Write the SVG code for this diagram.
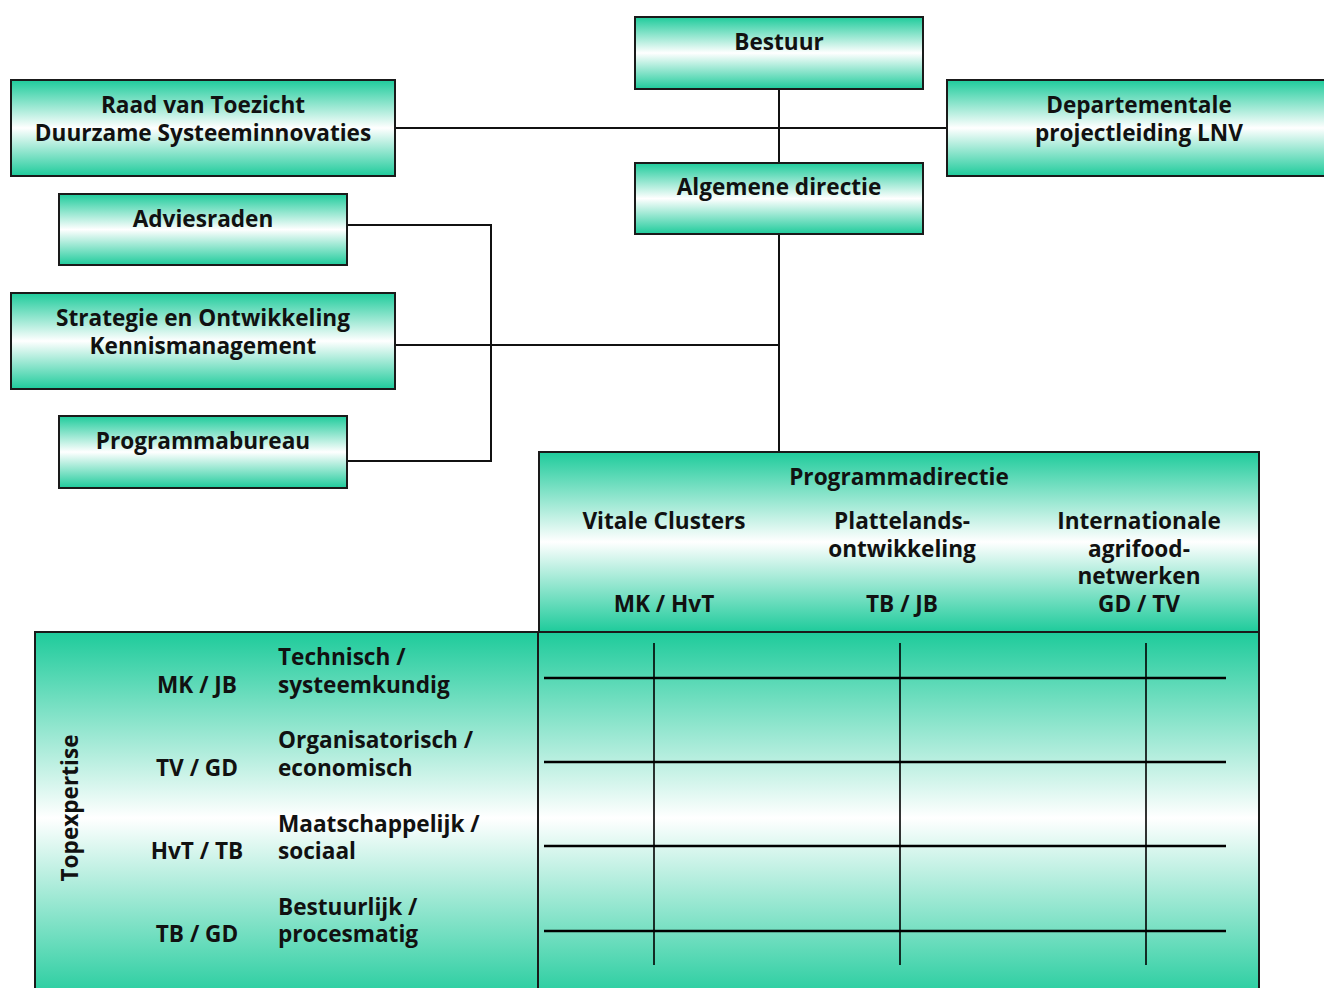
<svg xmlns="http://www.w3.org/2000/svg" width="1324" height="988" viewBox="0 0 1324 988">
  <defs>
    <linearGradient id="fade" x1="0" y1="0" x2="0" y2="1">
      <stop offset="0" stop-color="#1ecb9b"/>
      <stop offset="0.5" stop-color="#ffffff"/>
      <stop offset="1" stop-color="#1ecb9b"/>
    </linearGradient>
  </defs>
  <style>
    .box { fill: url(#fade); stroke: #1a1a1a; stroke-width: 2; }
    .lbl { font-family: "Open Sans", "DejaVu Sans", sans-serif; font-weight: bold; font-size: 22.6px; fill: #111; }
    .mid { text-anchor: middle; }
    .wire { fill: none; stroke: #111; stroke-width: 2; }
    .grid-h { stroke: #000; stroke-width: 2.4; }
    .grid-v { stroke: #000; stroke-width: 1.6; }
  </style>
  <rect width="1324" height="988" fill="#ffffff"/>

  <!-- connectors -->
  <g id="connectors">
    <line class="wire" x1="395" y1="128" x2="947" y2="128"/>
    <line class="wire" x1="779" y1="89" x2="779" y2="163"/>
    <line class="wire" x1="779" y1="234" x2="779" y2="452"/>
    <line class="wire" x1="395" y1="345" x2="779" y2="345"/>
    <polyline class="wire" points="347,225 491,225 491,461 347,461"/>
  </g>

  <g id="bestuur">
    <rect class="box" x="635" y="17" width="288" height="72"/>
    <text class="lbl mid" x="779" y="50">Bestuur</text>
  </g>

  <g id="raad-van-toezicht">
    <rect class="box" x="11" y="80" width="384" height="96"/>
    <text class="lbl mid" x="203" y="113">Raad van Toezicht</text>
    <text class="lbl mid" x="203" y="141">Duurzame Systeeminnovaties</text>
  </g>

  <g id="departementale-projectleiding">
    <rect class="box" x="947" y="80" width="384" height="96"/>
    <text class="lbl mid" x="1139" y="113">Departementale</text>
    <text class="lbl mid" x="1139" y="141">projectleiding LNV</text>
  </g>

  <g id="algemene-directie">
    <rect class="box" x="635" y="163" width="288" height="71"/>
    <text class="lbl mid" x="779" y="195">Algemene directie</text>
  </g>

  <g id="adviesraden">
    <rect class="box" x="59" y="194" width="288" height="71"/>
    <text class="lbl mid" x="203" y="227">Adviesraden</text>
  </g>

  <g id="strategie">
    <rect class="box" x="11" y="293" width="384" height="96"/>
    <text class="lbl mid" x="203" y="326">Strategie en Ontwikkeling</text>
    <text class="lbl mid" x="203" y="354">Kennismanagement</text>
  </g>

  <g id="programmabureau">
    <rect class="box" x="59" y="416" width="288" height="72"/>
    <text class="lbl mid" x="203" y="449">Programmabureau</text>
  </g>

  <g id="programmadirectie">
    <rect class="box" x="539" y="452" width="720" height="180"/>
    <text class="lbl mid" x="899" y="485">Programmadirectie</text>
    <text class="lbl mid" x="664" y="529">Vitale Clusters</text>
    <text class="lbl mid" x="664" y="612">MK / HvT</text>
    <text class="lbl mid" x="902" y="529">Plattelands-</text>
    <text class="lbl mid" x="902" y="557">ontwikkeling</text>
    <text class="lbl mid" x="902" y="612">TB / JB</text>
    <text class="lbl mid" x="1139" y="529">Internationale</text>
    <text class="lbl mid" x="1139" y="557">agrifood-</text>
    <text class="lbl mid" x="1139" y="584">netwerken</text>
    <text class="lbl mid" x="1139" y="612">GD / TV</text>
  </g>

  <g id="topexpertise">
    <rect class="box" x="35" y="632" width="503" height="372"/>
    <text class="lbl mid" transform="translate(78 808) rotate(-90)">Topexpertise</text>
    <text class="lbl mid" x="197" y="693">MK / JB</text>
    <text class="lbl mid" x="197" y="776">TV / GD</text>
    <text class="lbl mid" x="197" y="859">HvT / TB</text>
    <text class="lbl mid" x="197" y="942">TB / GD</text>
    <text class="lbl" x="278" y="665">Technisch /</text>
    <text class="lbl" x="278" y="693">systeemkundig</text>
    <text class="lbl" x="278" y="748">Organisatorisch /</text>
    <text class="lbl" x="278" y="776">economisch</text>
    <text class="lbl" x="278" y="832">Maatschappelijk /</text>
    <text class="lbl" x="278" y="859">sociaal</text>
    <text class="lbl" x="278" y="915">Bestuurlijk /</text>
    <text class="lbl" x="278" y="942">procesmatig</text>
  </g>

  <g id="matrix">
    <rect class="box" x="538" y="632" width="721" height="372"/>
    <line class="grid-v" x1="654" y1="643" x2="654" y2="965"/>
    <line class="grid-v" x1="900" y1="643" x2="900" y2="965"/>
    <line class="grid-v" x1="1146" y1="643" x2="1146" y2="965"/>
    <line class="grid-h" x1="544" y1="678" x2="1226" y2="678"/>
    <line class="grid-h" x1="544" y1="762" x2="1226" y2="762"/>
    <line class="grid-h" x1="544" y1="846" x2="1226" y2="846"/>
    <line class="grid-h" x1="544" y1="931" x2="1226" y2="931"/>
  </g>
</svg>
